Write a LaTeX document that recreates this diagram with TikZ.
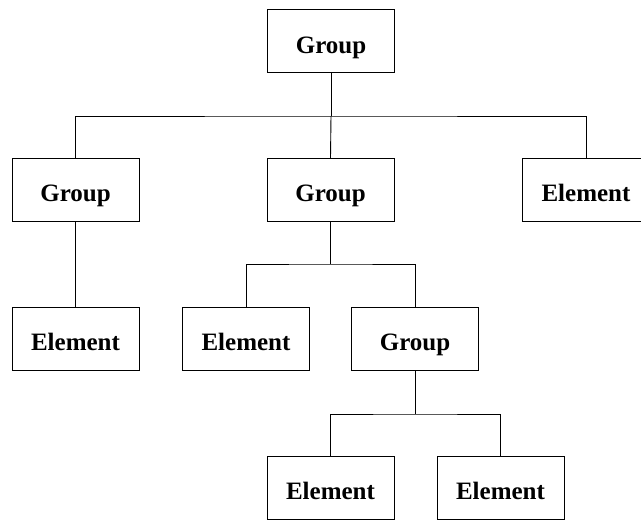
\documentclass[tikz,border=0pt]{standalone}
\usepackage{fontspec}
\setmainfont{Liberation Serif}
\begin{document}
\begin{tikzpicture}[x=1pt,y=-1pt,
  box/.style={draw, line width=0.9pt, minimum width=127pt, minimum height=63pt, inner sep=0pt, outer sep=0pt, text height=24pt, text depth=0pt, font=\fontsize{25}{30}\selectfont\bfseries},
  conn/.style={line width=0.9pt}]
\useasboundingbox (0,0) rectangle (641,520);
\clip (0,0) rectangle (641,520);
\node[box] (top) at (331,41) {Group};
\node[box] (g1) at (75.5,189.5) {Group};
\node[box] (g2) at (330.5,189.5) {Group};
\node[box] (e1) at (586,189.5) {Element};
\node[box] (e2) at (75.5,338.5) {Element};
\node[box] (e3) at (246,338.5) {Element};
\node[box] (g3) at (415,338.5) {Group};
\node[box] (e4) at (330.5,487.5) {Element};
\node[box] (e5) at (500.5,487.5) {Element};
\coordinate (j1) at (331,116);
\coordinate (j2) at (330.5,264);
\coordinate (j3) at (415,414);
\draw[conn] (top.south) -- (j1);
\draw[conn] (g1.north) |- (j1) -| (e1.north);
\draw[conn] (j1) -- (g2.north);
\draw[conn] (g1.south) -- (e2.north);
\draw[conn] (g2.south) -- (j2);
\draw[conn] (e3.north) |- (j2) -| (g3.north);
\draw[conn] (g3.south) -- (j3);
\draw[conn] (e4.north) |- (j3) -| (e5.north);
\end{tikzpicture}
\end{document}
